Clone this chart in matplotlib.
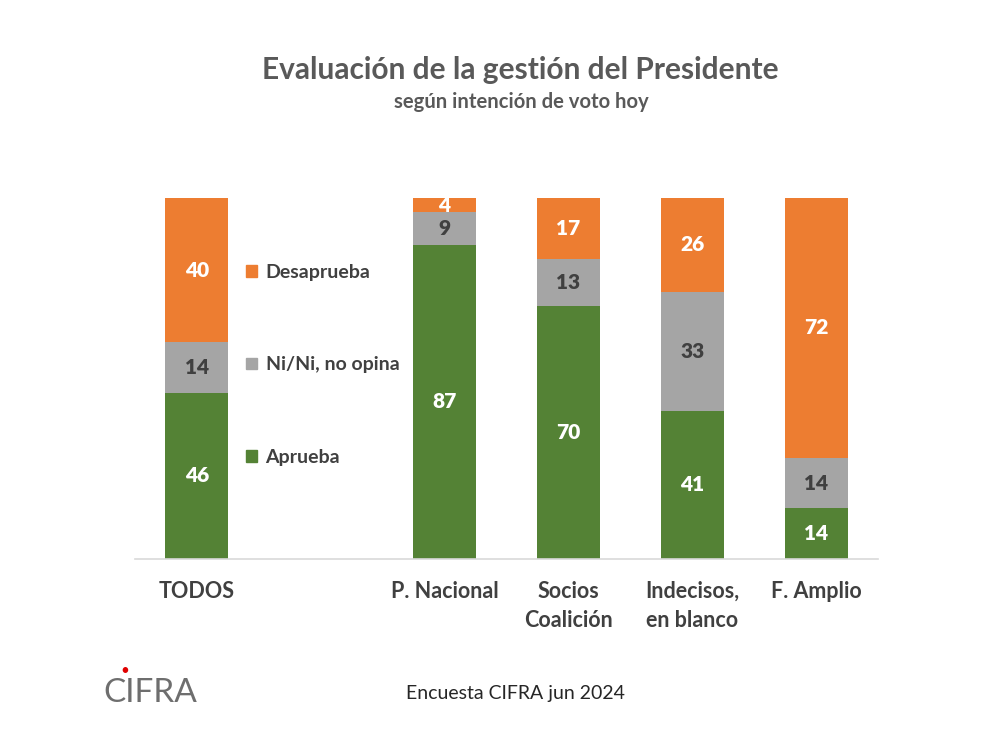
import matplotlib
matplotlib.use("Agg")
import matplotlib.pyplot as plt
from matplotlib.patches import Patch

plt.rcParams['font.family'] = ['Lato', 'DejaVu Sans']

categories = ["TODOS", "", "P. Nacional", "Socios\nCoalición", "Indecisos,\nen blanco", "F. Amplio"]
aprueba = [46, None, 87, 70, 41, 14]
ninguno = [14, None, 9, 13, 33, 14]
desaprueba = [40, None, 4, 17, 26, 72]
series_names = ["Aprueba", "Ni/Ni, no opina", "Desaprueba"]
colors = ["#548235", "#A5A5A5", "#ED7D31"]
label_colors = ["white", "#404040", "white"]

fig = plt.figure(figsize=(10, 7.51), dpi=100)
ax = fig.add_axes([0.135, 0.2557, 0.743, 0.4807])

idx = [i for i, v in enumerate(aprueba) if v is not None]
bottoms = [0] * len(idx)
for name, vals, col, lc in zip(series_names, [aprueba, ninguno, desaprueba], colors, label_colors):
    v = [vals[i] for i in idx]
    bars = ax.bar(idx, v, bottom=bottoms, width=0.51, color=col, label=name)
    for b, val, bot in zip(bars, v, bottoms):
        ax.text(b.get_x() + b.get_width() / 2, bot + val / 2, str(val),
                ha="center", va="center", color=lc, fontsize=15, fontweight="heavy")
    bottoms = [a + b for a, b in zip(bottoms, v)]

ax.set_xlim(-0.5, 5.5)
ax.set_ylim(0, 100)
for s in ["top", "right", "left"]:
    ax.spines[s].set_visible(False)
ax.spines["bottom"].set_color("#D9D9D9")
ax.spines["bottom"].set_linewidth(1.2)
ax.set_yticks([])
ax.set_xticks(range(len(categories)))
ax.set_xticklabels(categories, fontsize=15.5, fontweight="bold", color="#404040", linespacing=1.45, va="top")
ax.tick_params(axis="x", length=0, pad=16)

handles = [Patch(color=colors[2]), Patch(color=colors[1]), Patch(color=colors[0])]
leg = ax.legend(handles, [series_names[2], series_names[1], series_names[0]],
                loc="upper left", bbox_to_anchor=(0.126, 0.866), frameon=False,
                fontsize=14, labelspacing=3.88, handlelength=0.55, handleheight=0.55,
                handletextpad=0.45, labelcolor="#404040")
for t in leg.get_texts():
    t.set_fontweight("bold")

fig.text(0.52, 0.907, "Evaluación de la gestión del Presidente", ha="center", va="center",
         fontsize=21.5, fontweight="bold", color="#595959")
fig.text(0.521, 0.864, "según intención de voto hoy", ha="center", va="center",
         fontsize=14.6, fontweight="bold", color="#595959")
fig.text(0.515, 0.077, "Encuesta CIFRA jun 2024", ha="center", va="center",
         fontsize=14, color="#262626")
fig.text(0.150, 0.077, "CIFRA", ha="center", va="center", fontsize=24,
         fontweight="normal", color="#6E6E6E")
fig.text(0.125, 0.106, "•", ha="center", va="center", fontsize=11, color="#E00000")

fig.savefig("out.png", dpi=100)
